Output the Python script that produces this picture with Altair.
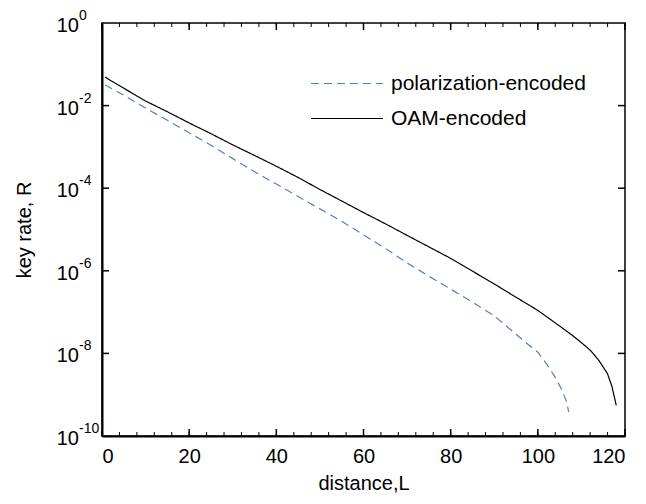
import altair as alt
import pandas as pd

# ---- data ----
series_names = ["polarization-encoded", "OAM-encoded"]

L_pol = [0.7, 5, 10, 15, 20, 25, 30, 35, 40, 45, 50, 55, 60, 65, 70, 75, 80, 85, 90,
         95, 98, 100, 102, 104, 105.5, 106.5, 107.1]
R_pol = [3.16e-2, 1.78e-2, 8.7e-3, 4.4e-3, 2.19e-3, 1.10e-3, 5.2e-4, 2.51e-4, 1.26e-4,
         6.3e-5, 3.16e-5, 1.58e-5, 7.4e-6, 3.5e-6, 1.55e-6, 7.4e-7, 3.6e-7, 1.74e-7,
         8.1e-8, 2.9e-8, 1.58e-8, 1.07e-8, 5.6e-9, 2.63e-9, 1.32e-9, 7.1e-10, 3.8e-10]

L_oam = [0.7, 5, 10, 15, 20, 25, 30, 35, 40, 45, 50, 55, 60, 65, 70, 75, 80, 85, 90,
         95, 100, 105, 108, 110, 112, 114, 116, 117, 118]
R_oam = [4.9e-2, 2.63e-2, 1.29e-2, 7.1e-3, 3.8e-3, 2.09e-3, 1.12e-3, 6.2e-4, 3.4e-4,
         1.82e-4, 9.3e-5, 4.9e-5, 2.57e-5, 1.38e-5, 7.2e-6, 3.8e-6, 2.0e-6, 9.8e-7,
         4.8e-7, 2.29e-7, 1.10e-7, 4.6e-8, 2.69e-8, 1.82e-8, 1.20e-8, 6.8e-9, 3.2e-9,
         1.58e-9, 5.5e-10]

x_major = [0, 20, 40, 60, 80, 100, 120]
x_minor = list(range(0, 121, 4))
y_decades = [1, 1e-2, 1e-4, 1e-6, 1e-8, 1e-10]
y_exps = ["0", "-2", "-4", "-6", "-8", "-10"]
y_inner = [1e-2, 1e-4, 1e-6, 1e-8]

W, H = 523, 413
FONT = "Liberation Sans"

df = pd.concat([
    pd.DataFrame({"L": L_pol, "R": R_pol, "series": series_names[0]}),
    pd.DataFrame({"L": L_oam, "R": R_oam, "series": series_names[1]}),
])

xs = alt.Scale(domain=[0, 120], nice=False, zero=False)
ys = alt.Scale(type="log", domain=[1e-10, 1], nice=False)

leg = dict(title=None, orient="none", legendX=208, legendY=50,
           symbolType="stroke", symbolSize=5184, symbolStrokeWidth=1.2,
           labelFontSize=21, labelFont=FONT, labelColor="black", labelOffset=7,
           labelLimit=0, clipHeight=21, rowPadding=13)

lines = alt.Chart(df).mark_line(strokeWidth=1.2, clip=True).encode(
    x=alt.X("L:Q", scale=xs,
            axis=alt.Axis(title="distance,L", values=x_major, ticks=False, grid=False,
                          labelPadding=10, labelFontSize=20, labelFont=FONT,
                          titleFontSize=20, titleFont=FONT, titleFontWeight="normal",
                          titlePadding=7, domainColor="black", domainWidth=2,
                          labelColor="black", titleColor="black")),
    y=alt.Y("R:Q", scale=ys,
            axis=alt.Axis(title="key rate, R", labels=False, ticks=False, grid=False,
                          titleFontSize=20, titleFont=FONT, titleFontWeight="normal",
                          titlePadding=68, domainColor="black", domainWidth=2,
                          titleColor="black")),
    color=alt.Color("series:N",
                    scale=alt.Scale(domain=series_names, range=["#5b7cbf", "black"]),
                    legend=alt.Legend(**leg)),
    strokeDash=alt.StrokeDash("series:N",
                              scale=alt.Scale(domain=series_names, range=[[8, 5], [1, 0]]),
                              legend=alt.Legend(**leg)),
)

minor_df = pd.DataFrame({"x": x_minor})
major_df = pd.DataFrame({"x": x_major})
yin_df = pd.DataFrame({"y": y_inner})

bot_minor = alt.Chart(minor_df).mark_rule(color="black", strokeWidth=1).encode(
    x=alt.X("x:Q", scale=xs), y=alt.value(H), y2=alt.value(H - 4))
top_minor = alt.Chart(minor_df).mark_rule(color="black", strokeWidth=1).encode(
    x=alt.X("x:Q", scale=xs), y=alt.value(0), y2=alt.value(4))
bot_major = alt.Chart(major_df).mark_rule(color="black", strokeWidth=1.5).encode(
    x=alt.X("x:Q", scale=xs), y=alt.value(H), y2=alt.value(H - 7))
top_major = alt.Chart(major_df).mark_rule(color="black", strokeWidth=1.5).encode(
    x=alt.X("x:Q", scale=xs), y=alt.value(0), y2=alt.value(7))
left_t = alt.Chart(yin_df).mark_rule(color="black", strokeWidth=1.5).encode(
    y=alt.Y("y:Q", scale=ys), x=alt.value(0), x2=alt.value(7))
right_t = alt.Chart(yin_df).mark_rule(color="black", strokeWidth=1.5).encode(
    y=alt.Y("y:Q", scale=ys), x=alt.value(W), x2=alt.value(W - 7))

lab_df = pd.DataFrame({"y": y_decades, "base": ["10"] * len(y_decades), "exp": y_exps})
base_txt = alt.Chart(lab_df).mark_text(align="right", baseline="middle", dy=3, fontSize=20,
                                       font=FONT, color="black").encode(
    y=alt.Y("y:Q", scale=ys), x=alt.value(-23), text="base:N")
exp_txt = alt.Chart(lab_df).mark_text(align="left", baseline="middle", dy=-7, fontSize=14,
                                      font=FONT, color="black").encode(
    y=alt.Y("y:Q", scale=ys), x=alt.value(-23), text="exp:N")

chart = alt.layer(lines, bot_minor, top_minor, bot_major, top_major, left_t, right_t,
                  base_txt, exp_txt).properties(
    width=W, height=H,
    autosize=alt.AutoSizeParams(type="none"),
    padding={"left": 94, "top": 15, "right": 13, "bottom": 60},
    background="white",
).configure_view(stroke="black", strokeWidth=1.5)

chart.save("out.html", embed_options={"renderer": "svg", "actions": False})
